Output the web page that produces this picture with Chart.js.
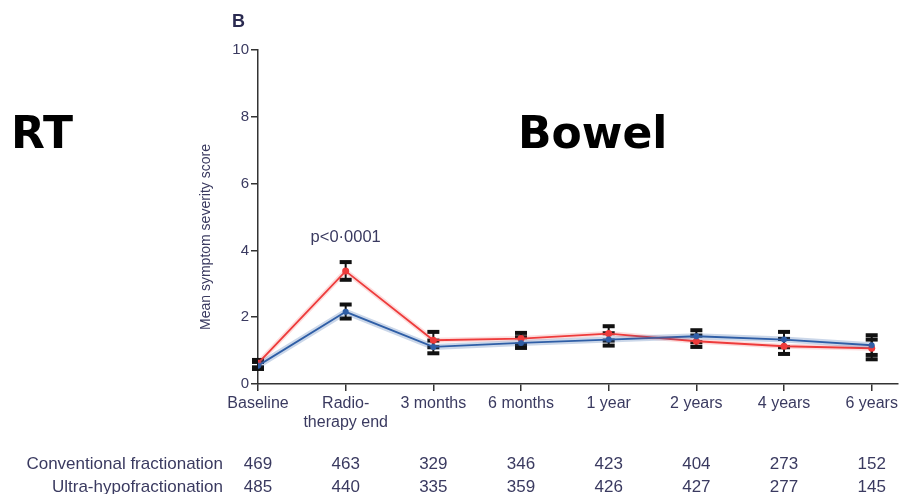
<!DOCTYPE html>
<html>
<head>
<meta charset="utf-8">
<script src="https://cdn.jsdelivr.net/npm/chart.js@4.4.1/dist/chart.umd.min.js"></script>
<style>
  html, body { margin: 0; padding: 0; background: #fff; }
  #wrap { width: 902px; height: 494px; position: relative; }
</style>
</head>
<body>
<div id="wrap"><canvas id="c" width="902" height="494"></canvas></div>
<script>
const categories = ["Baseline", ["Radio-", "therapy end"], "3 months", "6 months", "1 year", "2 years", "4 years", "6 years"];

const conventionalMean = [0.55, 2.16, 1.11, 1.23, 1.33, 1.43, 1.33, 1.16];
const conventionalLow  = [0.45, 1.96, 0.92, 1.08, 1.15, 1.25, 1.10, 0.87];
const conventionalHigh = [0.66, 2.38, 1.30, 1.40, 1.52, 1.61, 1.56, 1.46];

const ultraMean = [0.62, 3.38, 1.31, 1.36, 1.51, 1.28, 1.13, 1.07];
const ultraLow  = [0.50, 3.12, 1.10, 1.18, 1.30, 1.11, 0.90, 0.74];
const ultraHigh = [0.72, 3.65, 1.56, 1.53, 1.73, 1.45, 1.35, 1.33];

const conventionalN = [469, 463, 329, 346, 423, 404, 273, 152];
const ultraN        = [485, 440, 335, 359, 426, 427, 277, 145];

const yTicks = [0, 2, 4, 6, 8, 10];
const pValueText = "p<0·0001";

const BLUE = "#2f5ea6";
const RED = "#ee3b3b";
const TEXT = "#3a3a60";
const AXIS = "#333333";
const FONT = "'Liberation Sans', Arial, sans-serif";

const toPts = arr => arr.map((v, i) => ({ x: i, y: v }));

const overlayPlugin = {
  id: "overlay",
  beforeDatasetsDraw(chart) {
    const ctx = chart.ctx;
    const xs = chart.scales.x, ys = chart.scales.y;
    const drawBars = (lo, hi) => {
      ctx.save();
      ctx.strokeStyle = "#111";
      ctx.fillStyle = "#111";
      ctx.lineWidth = 2;
      lo.forEach((l, i) => {
        const x = xs.getPixelForValue(i);
        const y1 = ys.getPixelForValue(l), y2 = ys.getPixelForValue(hi[i]);
        ctx.beginPath(); ctx.moveTo(x, y1); ctx.lineTo(x, y2); ctx.stroke();
        ctx.fillRect(x - 6, y1 - 2, 12, 4);
        ctx.fillRect(x - 6, y2 - 2, 12, 4);
      });
      ctx.restore();
    };
    drawBars(conventionalLow, conventionalHigh);
    drawBars(ultraLow, ultraHigh);
  },
  afterDraw(chart) {
    const ctx = chart.ctx;
    const xs = chart.scales.x, ys = chart.scales.y;
    ctx.save();
    ctx.fillStyle = "#000";
    ctx.textBaseline = "alphabetic";
    ctx.font = "bold 44px 'DejaVu Sans', sans-serif";
    ctx.textAlign = "left";
    ctx.fillText("RT", 11, 148);
    ctx.fillText("Bowel", 518, 148);

    ctx.fillStyle = "#2a2a50";
    ctx.font = "bold 18px " + FONT;
    ctx.fillText("B", 232, 27);

    ctx.fillStyle = TEXT;
    ctx.font = "16.5px " + FONT;
    ctx.textAlign = "center";
    ctx.fillText(pValueText, xs.getPixelForValue(1), ys.getPixelForValue(4.25));

    ctx.save();
    ctx.translate(210, 237);
    ctx.rotate(-Math.PI / 2);
    ctx.font = "14px " + FONT;
    ctx.textAlign = "center";
    ctx.fillText("Mean symptom severity score", 0, 0);
    ctx.restore();

    ctx.font = "17px " + FONT;
    ctx.textAlign = "right";
    ctx.fillText("Conventional fractionation", 223, 469);
    ctx.fillText("Ultra-hypofractionation", 223, 492);
    ctx.textAlign = "center";
    conventionalN.forEach((n, i) => ctx.fillText(String(n), xs.getPixelForValue(i), 469));
    ultraN.forEach((n, i) => ctx.fillText(String(n), xs.getPixelForValue(i), 492));
    ctx.restore();
  }
};

new Chart(document.getElementById("c"), {
  type: "line",
  data: {
    datasets: [
      { label: "conv band", data: toPts(conventionalMean), borderColor: "rgba(47,94,166,0.25)", borderWidth: 6, pointRadius: 0, tension: 0 },
      { label: "ultra band", data: toPts(ultraMean), borderColor: "rgba(238,59,59,0.18)", borderWidth: 5, pointRadius: 0, tension: 0 },
      { label: "Conventional fractionation", data: toPts(conventionalMean), borderColor: BLUE, backgroundColor: BLUE, borderWidth: 1.8, pointRadius: 3, pointBorderWidth: 0, tension: 0 },
      { label: "Ultra-hypofractionation", data: toPts(ultraMean), borderColor: RED, backgroundColor: RED, borderWidth: 1.8, pointRadius: 3.5, pointBorderWidth: 0, tension: 0 }
    ]
  },
  options: {
    responsive: false,
    animation: false,
    devicePixelRatio: 1,
    layout: { padding: { left: 200, right: 4, top: 50, bottom: 58 } },
    plugins: { legend: { display: false }, tooltip: { enabled: false } },
    scales: {
      x: {
        type: "linear",
        min: 0,
        max: 7.3,
        afterFit: s => { s.height = 52; },
        afterBuildTicks: s => { s.ticks = categories.map((c, i) => ({ value: i })); },
        ticks: {
          includeBounds: false,
          stepSize: 1,
          autoSkip: false,
          maxRotation: 0,
          padding: 3,
          color: TEXT,
          font: { family: FONT, size: 16 },
          callback: v => categories[v]
        },
        grid: { drawOnChartArea: false, drawTicks: true, tickLength: 7, color: AXIS, lineWidth: 1.5 },
        border: { display: true, color: AXIS, width: 1.5 }
      },
      y: {
        min: 0,
        max: 10,
        afterFit: s => { s.width = 58; },
        afterBuildTicks: s => { s.ticks = yTicks.map(v => ({ value: v })); },
        ticks: { stepSize: 2, padding: 2, color: TEXT, font: { family: FONT, size: 15 } },
        grid: { drawOnChartArea: false, drawTicks: true, tickLength: 7, color: AXIS, lineWidth: 1.5 },
        border: { display: true, color: AXIS, width: 1.5 }
      }
    }
  },
  plugins: [overlayPlugin]
});
</script>
</body>
</html>
